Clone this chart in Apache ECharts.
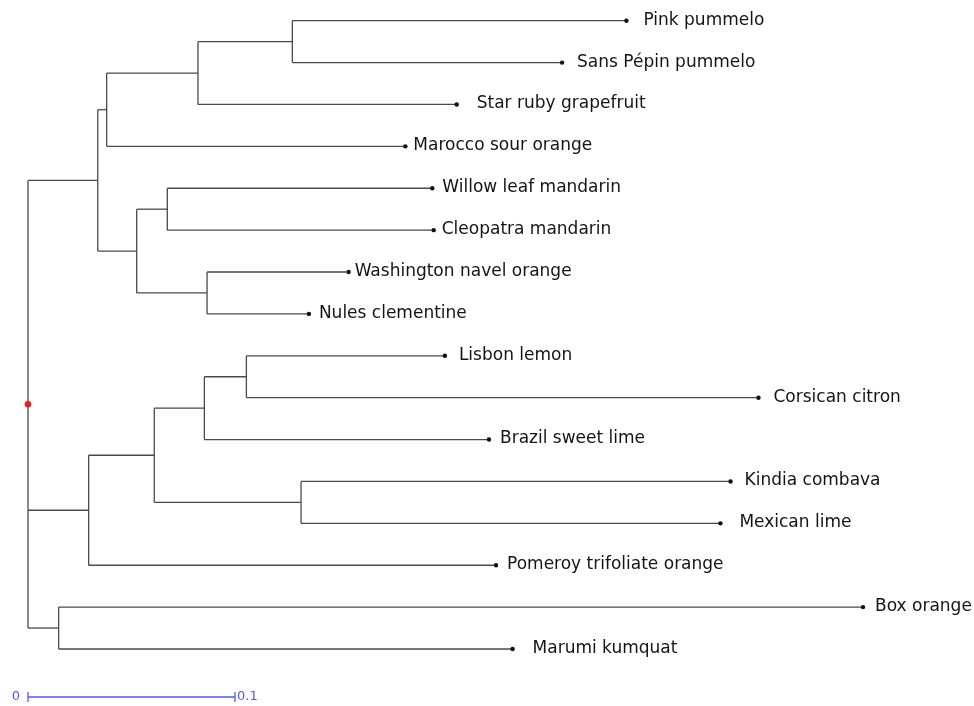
<!DOCTYPE html>
<html><head><meta charset="utf-8">
<script src="https://cdn.jsdelivr.net/npm/echarts@6/dist/echarts.min.js"></script>
<style>html,body{margin:0;padding:0;background:#fff}#c{width:974px;height:706px}</style>
</head><body><div id="c"></div>
<script>
// ---------- DATA ----------
// Tree nodes (internal nodes have empty names), parent index and branch length
const nodeNames = [
  '', '', '', '', '',
  'Pink pummelo', 'Sans Pépin pummelo', 'Star ruby grapefruit', 'Marocco sour orange',
  '', '', 'Willow leaf mandarin', 'Cleopatra mandarin', '',
  'Washington navel orange', 'Nules clementine',
  '', '', '', '', 'Lisbon lemon', 'Corsican citron', 'Brazil sweet lime', '',
  'Kindia combava', 'Mexican lime', 'Pomeroy trifoliate orange',
  '', 'Box orange', 'Marumi kumquat'
];
const parentIndex = [
  -1, 0, 1, 2, 3,
  4, 4, 3, 2,
  1, 9, 10, 10, 9,
  13, 13,
  0, 16, 17, 18, 19, 19, 18, 17,
  23, 23, 16,
  0, 27, 27
];
const branchLength = [
  0, 0.0337, 0.0043, 0.0441, 0.0456,
  0.1614, 0.1303, 0.1250, 0.1443,
  0.0188, 0.0148, 0.1280, 0.1287, 0.0340,
  0.0684, 0.0492,
  0.0293, 0.0317, 0.0242, 0.0203, 0.0959, 0.2474, 0.1375, 0.0709,
  0.2075, 0.2026, 0.1968,
  0.0148, 0.3886, 0.2193
];
const scaleBarValues = [0, 0.1];
const scaleBarLabels = ['0', '0.1'];

// ---------- STYLE ----------
const labelGap = {
  'Pink pummelo': 17, 'Sans Pépin pummelo': 15, 'Star ruby grapefruit': 20,
  'Marocco sour orange': 8, 'Willow leaf mandarin': 10, 'Cleopatra mandarin': 8,
  'Washington navel orange': 6, 'Nules clementine': 10, 'Lisbon lemon': 14,
  'Corsican citron': 15, 'Brazil sweet lime': 11, 'Kindia combava': 14,
  'Mexican lime': 19, 'Pomeroy trifoliate orange': 11, 'Box orange': 12,
  'Marumi kumquat': 20
};
const LINE = '#4a4a4a', BLUE = '#5656f2';

// ---------- LAYOUT (from data) ----------
const n = nodeNames.length;
const children = nodeNames.map(() => []);
for (let i = 1; i < n; i++) children[parentIndex[i]].push(i);
const nodeX = new Array(n).fill(0), nodeY = new Array(n).fill(0);
let leafCounter = 0;
(function walk(i) {
  if (i > 0) nodeX[i] = nodeX[parentIndex[i]] + branchLength[i];
  if (children[i].length === 0) { nodeY[i] = leafCounter++; return; }
  children[i].forEach(walk);
  const c = children[i];
  nodeY[i] = (nodeY[c[0]] + nodeY[c[c.length - 1]]) / 2;
})(0);
const leafCount = leafCounter;

const treeData = [];
for (let i = 0; i < n; i++) {
  const c = children[i];
  treeData.push([
    nodeX[i], nodeY[i],
    i > 0 ? nodeX[parentIndex[i]] : nodeX[i],
    c.length ? nodeY[c[0]] : nodeY[i],
    c.length ? nodeY[c[c.length - 1]] : nodeY[i],
    i
  ]);
}

const chart = echarts.init(document.getElementById('c'), null, {renderer: 'canvas'});
chart.setOption({
  animation: false,
  backgroundColor: '#fff',
  grid: {left: 28, right: 14.5, top: 20.7, bottom: 57},
  xAxis: {type: 'value', min: 0, max: 0.45, show: false},
  yAxis: {type: 'value', min: 0, max: leafCount - 1, inverse: true, show: false},
  series: [{
    type: 'custom',
    clip: false,
    data: treeData,
    renderItem: function (params, api) {
      const id = api.value(5);
      const p = api.coord([api.value(0), api.value(1)]);
      const pp = api.coord([api.value(2), api.value(1)]);
      const top = api.coord([api.value(0), api.value(3)]);
      const bot = api.coord([api.value(0), api.value(4)]);
      const els = [];
      const ls = {stroke: LINE, lineWidth: 1.3};
      if (id > 0) {
        els.push({type: 'line', shape: {x1: pp[0], y1: p[1], x2: p[0], y2: p[1]}, style: ls});
      }
      if (children[id].length) {
        els.push({type: 'line', shape: {x1: p[0], y1: top[1], x2: p[0], y2: bot[1]}, style: ls});
      } else {
        els.push({type: 'circle', shape: {cx: p[0], cy: p[1], r: 2.2}, style: {fill: '#111'}});
        const nm = nodeNames[id];
        els.push({type: 'text', style: {
          text: nm, x: p[0] + (labelGap[nm] || 10), y: p[1] - 0.5,
          fill: '#141414', fontSize: 17, fontFamily: '"DejaVu Sans"',
          verticalAlign: 'middle', align: 'left'
        }});
      }
      if (id === 0) {
        els.push({type: 'circle', z2: 10, shape: {cx: p[0], cy: p[1], r: 3.3}, style: {fill: '#f21a1a'}});
      }
      return {type: 'group', children: els};
    }
  }, {
    type: 'custom',
    clip: false,
    data: [[scaleBarValues[0], scaleBarValues[1]]],
    renderItem: function (params, api) {
      const a = api.coord([api.value(0), 0]);
      const b = api.coord([api.value(1), 0]);
      const y = 697;
      const st = {stroke: BLUE, lineWidth: 1.3};
      return {type: 'group', children: [
        {type: 'line', shape: {x1: a[0], y1: y, x2: b[0], y2: y}, style: st},
        {type: 'line', shape: {x1: a[0], y1: y - 5, x2: a[0], y2: y + 5}, style: st},
        {type: 'line', shape: {x1: b[0], y1: y - 5, x2: b[0], y2: y + 5}, style: st},
        {type: 'text', style: {text: scaleBarLabels[0], x: a[0] - 8, y: y, fill: BLUE,
          fontSize: 13, fontFamily: '"DejaVu Sans"', align: 'right', verticalAlign: 'middle'}},
        {type: 'text', style: {text: scaleBarLabels[1], x: b[0] + 2, y: y, fill: BLUE,
          fontSize: 13, fontFamily: '"DejaVu Sans"', align: 'left', verticalAlign: 'middle'}}
      ]};
    }
  }]
});
</script>
</body></html>
